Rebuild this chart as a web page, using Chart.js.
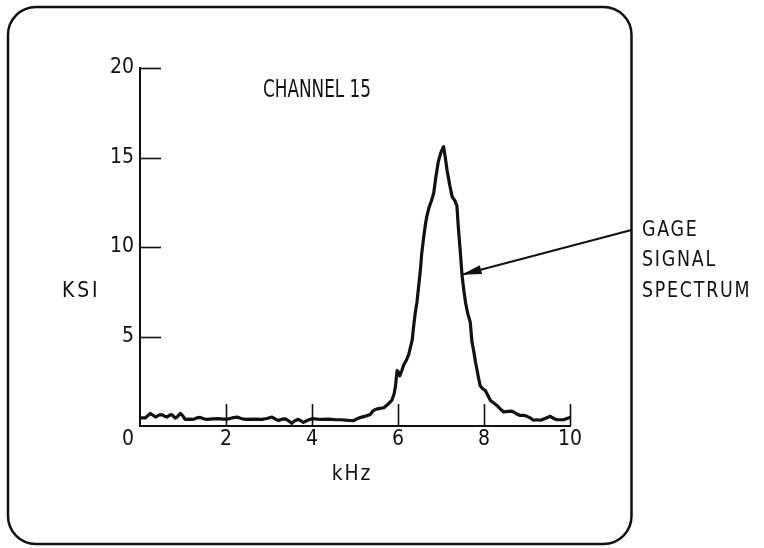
<!DOCTYPE html>
<html>
<head>
<meta charset="utf-8">
<script src="https://cdn.jsdelivr.net/npm/chart.js@4/dist/chart.umd.min.js"></script>
<style>
  html, body { margin: 0; padding: 0; background: #ffffff; }
  #wrap { width: 764px; height: 548px; }
</style>
</head>
<body>
<div id="wrap"><canvas id="c" width="764" height="548"></canvas></div>
<script>
// ---- data ----
const freqKHz = [
  0.00, 0.12, 0.24, 0.30, 0.36, 0.45, 0.51, 0.57, 0.63, 0.70, 0.74, 0.82, 0.88, 0.94, 1.00,
  1.05, 1.15, 1.24, 1.32, 1.40, 1.48, 1.56, 1.70, 1.82, 1.92, 2.02, 2.14, 2.26, 2.35, 2.45,
  2.65, 2.84, 2.95, 3.07, 3.15, 3.22, 3.30, 3.38, 3.45, 3.53, 3.60, 3.68, 3.75, 3.80, 3.90,
  4.00, 4.12, 4.23, 4.40, 4.54, 4.66, 4.85, 4.97, 5.05, 5.12, 5.24, 5.36, 5.42, 5.47, 5.55,
  5.67, 5.76, 5.86, 5.91, 5.94, 5.98, 6.01, 6.04, 6.09, 6.13, 6.20, 6.25, 6.30, 6.33, 6.36,
  6.40, 6.44, 6.48, 6.52, 6.55, 6.60, 6.64, 6.67, 6.72, 6.78, 6.83, 6.88, 6.94, 7.00, 7.06,
  7.10, 7.14, 7.20, 7.26, 7.32, 7.37, 7.40, 7.43, 7.45, 7.49, 7.53, 7.57, 7.62, 7.68, 7.72,
  7.76, 7.80, 7.84, 7.88, 7.91, 7.96, 8.03, 8.09, 8.15, 8.22, 8.30, 8.38, 8.46, 8.55, 8.65,
  8.74, 8.84, 8.92, 9.00, 9.08, 9.15, 9.23, 9.31, 9.42, 9.54, 9.62, 9.70, 9.85, 9.93, 10.00
];
const ksi = [
  0.45, 0.45, 0.70, 0.60, 0.50, 0.62, 0.63, 0.55, 0.50, 0.62, 0.63, 0.44, 0.55, 0.70, 0.55,
  0.37, 0.38, 0.37, 0.45, 0.48, 0.40, 0.37, 0.40, 0.41, 0.38, 0.38, 0.45, 0.50, 0.42, 0.37,
  0.38, 0.37, 0.42, 0.50, 0.38, 0.31, 0.38, 0.40, 0.30, 0.15, 0.30, 0.37, 0.28, 0.20, 0.32,
  0.41, 0.38, 0.37, 0.38, 0.35, 0.35, 0.31, 0.30, 0.41, 0.47, 0.55, 0.65, 0.85, 0.92, 0.97,
  1.02, 1.20, 1.45, 1.80, 2.20, 3.10, 3.00, 2.80, 3.10, 3.40, 3.70, 4.00, 4.50, 4.80, 5.50,
  6.30, 6.90, 7.80, 8.70, 9.60, 10.6, 11.3, 11.7, 12.2, 12.6, 13.0, 13.9, 14.8, 15.3, 15.6,
  15.0, 14.3, 13.5, 12.8, 12.6, 12.3, 11.2, 10.3, 9.70, 8.40, 7.60, 6.90, 6.30, 5.80, 4.70,
  4.20, 3.60, 3.10, 2.60, 2.26, 2.10, 1.98, 1.70, 1.43, 1.30, 1.15, 0.95, 0.78, 0.82, 0.83,
  0.70, 0.59, 0.60, 0.54, 0.45, 0.32, 0.35, 0.32, 0.42, 0.54, 0.42, 0.35, 0.35, 0.42, 0.48
];
const xTickValues = [0, 2, 4, 6, 8, 10];
const yTickValues = [0, 5, 10, 15, 20];
const chartTitle = "CHANNEL 15";
const xAxisTitle = "kHz";
const yAxisTitle = "KSI";
const calloutLines = ["GAGE", "SIGNAL", "SPECTRUM"];
const calloutTarget = [7.48, 8.45]; // kHz, KSI point the arrow touches

// ---- styling ----
const FONT = "'Liberation Sans Narrow', 'DejaVu Sans Condensed', 'Liberation Sans', sans-serif";
const INK = '#111111';

const points = freqKHz.map((f, i) => ({ x: f, y: ksi[i] }));

function narrowText(ctx, text, x, y, sx, spacing, align) {
  ctx.save();
  ctx.translate(x, y);
  ctx.scale(sx, 1);
  ctx.letterSpacing = spacing + 'px';
  ctx.textAlign = align || 'left';
  ctx.fillText(text, 0, 0);
  ctx.restore();
}

const decor = {
  id: 'decor',
  beforeDraw(chart) {
    const ctx = chart.ctx;
    ctx.save();
    ctx.fillStyle = '#ffffff';
    ctx.fillRect(0, 0, chart.width, chart.height);
    // rounded frame
    ctx.strokeStyle = INK;
    ctx.lineWidth = 2.5;
    ctx.beginPath();
    ctx.roundRect(8, 7, 623.5, 537, 28);
    ctx.stroke();
    ctx.restore();
  },
  afterDraw(chart) {
    const ctx = chart.ctx;
    const xs = chart.scales.x, ys = chart.scales.y;
    const a = chart.chartArea;
    ctx.save();
    ctx.strokeStyle = INK;
    ctx.fillStyle = INK;
    // inward tick marks
    ctx.lineWidth = 1.6;
    yTickValues.forEach(v => {
      if (v === 0) return;
      const y = Math.round(ys.getPixelForValue(v)) + 0.5;
      ctx.beginPath(); ctx.moveTo(a.left, y); ctx.lineTo(a.left + 21, y); ctx.stroke();
    });
    xTickValues.forEach(v => {
      if (v === 0) return;
      const x = Math.round(xs.getPixelForValue(v)) + 0.5;
      ctx.beginPath(); ctx.moveTo(x, a.bottom); ctx.lineTo(x, a.bottom - 22); ctx.stroke();
    });
    // corner "0"
    ctx.font = "21px " + FONT;
    ctx.textAlign = 'center';
    ctx.textBaseline = 'middle';
    ctx.fillText(String(xTickValues[0]), xs.getPixelForValue(0) - 12, ys.getPixelForValue(0) + 14);

    // texts
    ctx.font = "24px " + FONT;
    narrowText(ctx, chartTitle, 263, 91, 0.78, 0, 'left');
    ctx.font = "22px " + FONT;
    narrowText(ctx, yAxisTitle, 62, 291, 0.95, 3, 'left');
    narrowText(ctx, xAxisTitle, xs.getPixelForValue(5) - 3, 474, 0.95, 2, 'center');
    calloutLines.forEach((t, i) => narrowText(ctx, t, 642, 230 + i * 30.5, 0.88, 2, 'left'));

    // arrow
    const tx = xs.getPixelForValue(calloutTarget[0]);
    const ty = ys.getPixelForValue(calloutTarget[1]);
    const sx = 631.5, sy = 230;
    ctx.lineWidth = 2;
    ctx.beginPath(); ctx.moveTo(sx, sy); ctx.lineTo(tx, ty); ctx.stroke();
    const ang = Math.atan2(sy - ty, sx - tx);
    const L = 20, W = 4.5;
    const bx = tx + Math.cos(ang) * L, by = ty + Math.sin(ang) * L;
    ctx.beginPath();
    ctx.moveTo(tx, ty);
    ctx.lineTo(bx - Math.sin(ang) * W, by + Math.cos(ang) * W);
    ctx.lineTo(bx + Math.sin(ang) * W, by - Math.cos(ang) * W);
    ctx.closePath();
    ctx.fill();
    ctx.restore();
  }
};

new Chart(document.getElementById('c'), {
  type: 'line',
  data: {
    datasets: [{
      data: points,
      borderColor: INK,
      borderWidth: 3.2,
      pointRadius: 0,
      tension: 0,
      borderJoinStyle: 'round',
      borderCapStyle: 'round',
      fill: false
    }]
  },
  options: {
    responsive: false,
    animation: false,
    devicePixelRatio: 1,
    layout: { padding: { left: 0, right: 194, top: 68, bottom: 0 } },
    plugins: { legend: { display: false }, tooltip: { enabled: false }, title: { display: false } },
    scales: {
      x: {
        type: 'linear', min: 0, max: 10,
        afterBuildTicks: s => { s.ticks = xTickValues.map(v => ({ value: v })); },
        afterFit: s => { s.height = 122; },
        grid: { display: false, drawTicks: false },
        border: { display: true, color: INK, width: 2 },
        ticks: {
          padding: 1, color: INK, maxRotation: 0, autoSkip: false,
          font: { family: FONT, size: 21 },
          callback: v => (v === 0 ? '' : String(v))
        }
      },
      y: {
        type: 'linear', min: 0, max: 20,
        afterBuildTicks: s => { s.ticks = yTickValues.map(v => ({ value: v })); },
        afterFit: s => { s.width = 140; },
        grid: { display: false, drawTicks: false },
        border: { display: true, color: INK, width: 2 },
        ticks: {
          padding: 6, color: INK, autoSkip: false,
          font: { family: FONT, size: 21 },
          callback: v => (v === 0 ? '' : String(v))
        }
      }
    }
  },
  plugins: [decor]
});
</script>
</body>
</html>
